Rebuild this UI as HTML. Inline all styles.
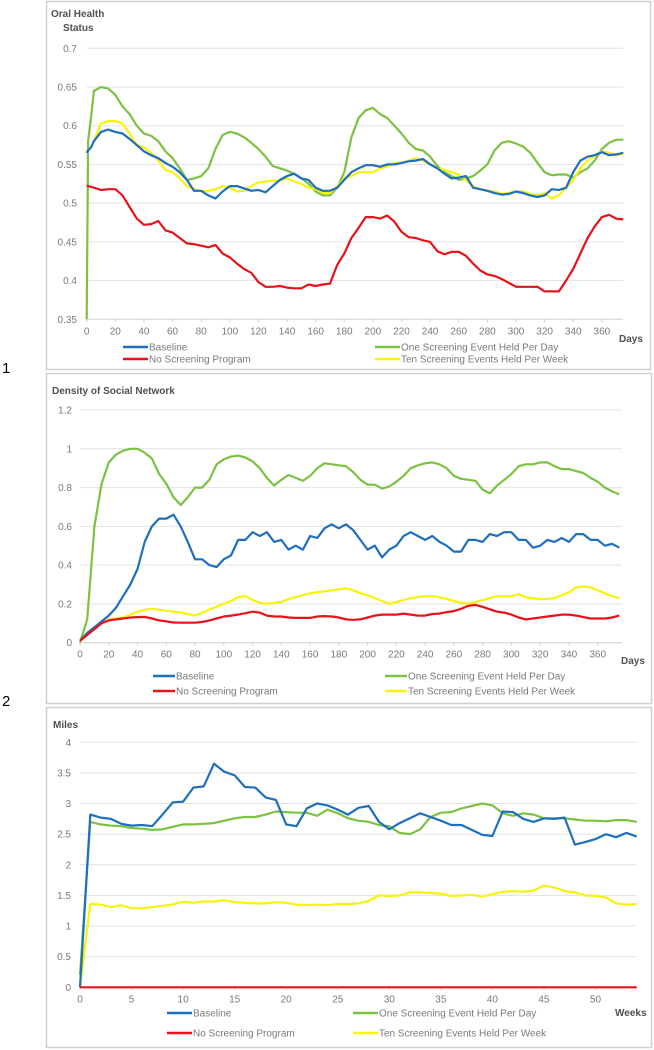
<!DOCTYPE html>
<html><head><meta charset="utf-8"><style>
html,body{margin:0;padding:0;background:#fff;}
svg{display:block;font-family:"Liberation Sans",sans-serif;}
</style></head><body>
<svg id="s" width="654" height="1050" xmlns="http://www.w3.org/2000/svg">
<text x="2" y="373" font-size="15" fill="#000">1</text>
<text x="2" y="706" font-size="15" fill="#000">2</text>
</svg>
<script>
// ---- Chart 1: Oral Health Status ----
const days1 = [0,1,3,5,10,15,20,25,30,35,40,45,50,55,60,65,70,75,80,85,90,95,100,105,110,115,120,125,130,135,140,145,150,155,160,165,170,175,180,185,190,195,200,205,210,215,220,225,230,235,240,245,250,255,260,265,270,275,280,285,290,295,300,305,310,315,320,325,330,335,340,345,350,355,360,365,370,375];
const ohBaseline = [0.565,0.568,0.572,0.58,0.592,0.595,0.592,0.59,0.583,0.575,0.567,0.562,0.558,0.552,0.547,0.54,0.53,0.516,0.516,0.51,0.506,0.515,0.522,0.522,0.519,0.516,0.517,0.514,0.522,0.53,0.535,0.538,0.532,0.53,0.52,0.516,0.516,0.52,0.53,0.54,0.545,0.549,0.549,0.547,0.55,0.55,0.552,0.554,0.555,0.557,0.55,0.545,0.538,0.532,0.533,0.535,0.52,0.518,0.516,0.513,0.511,0.512,0.515,0.513,0.51,0.508,0.51,0.518,0.517,0.52,0.54,0.555,0.56,0.562,0.566,0.562,0.563,0.565];
const ohNone = [0.523,0.522,0.521,0.52,0.517,0.518,0.518,0.51,0.495,0.48,0.472,0.473,0.477,0.465,0.462,0.455,0.448,0.447,0.445,0.443,0.446,0.435,0.43,0.422,0.415,0.41,0.398,0.392,0.392,0.393,0.391,0.39,0.39,0.395,0.393,0.395,0.396,0.42,0.435,0.455,0.468,0.482,0.482,0.48,0.484,0.476,0.463,0.456,0.455,0.452,0.45,0.438,0.434,0.437,0.437,0.432,0.422,0.413,0.408,0.406,0.402,0.397,0.392,0.392,0.392,0.392,0.386,0.386,0.386,0.4,0.415,0.435,0.455,0.47,0.482,0.485,0.48,0.479];
const ohDaily = [0.35,0.58,0.61,0.645,0.65,0.648,0.64,0.625,0.615,0.6,0.59,0.587,0.58,0.567,0.558,0.545,0.53,0.532,0.535,0.545,0.57,0.588,0.592,0.59,0.585,0.578,0.57,0.56,0.548,0.545,0.542,0.538,0.532,0.525,0.515,0.51,0.51,0.52,0.54,0.585,0.61,0.62,0.623,0.615,0.61,0.6,0.59,0.578,0.57,0.568,0.56,0.548,0.54,0.535,0.53,0.532,0.535,0.542,0.55,0.568,0.578,0.58,0.577,0.573,0.565,0.552,0.54,0.536,0.537,0.537,0.533,0.54,0.545,0.555,0.57,0.578,0.582,0.582];
const ohWeekly = [0.565,0.568,0.572,0.58,0.603,0.606,0.606,0.603,0.59,0.575,0.572,0.565,0.555,0.543,0.54,0.532,0.522,0.518,0.515,0.516,0.518,0.522,0.52,0.515,0.516,0.522,0.527,0.528,0.529,0.529,0.532,0.528,0.525,0.52,0.518,0.513,0.513,0.522,0.532,0.535,0.54,0.54,0.54,0.545,0.547,0.552,0.552,0.555,0.558,0.555,0.55,0.545,0.543,0.54,0.537,0.53,0.522,0.518,0.516,0.515,0.512,0.513,0.515,0.515,0.512,0.51,0.513,0.506,0.51,0.52,0.53,0.545,0.555,0.562,0.567,0.565,0.562,0.564];
const ohYTicks = ["0.35","0.4","0.45","0.5","0.55","0.6","0.65","0.7"];
const dayTicks = ["0","20","40","60","80","100","120","140","160","180","200","220","240","260","280","300","320","340","360"];

// ---- Chart 2: Density of Social Network ----
const days2 = [0,5,10,15,20,25,30,35,40,45,50,55,60,65,70,75,80,85,90,95,100,105,110,115,120,125,130,135,140,145,150,155,160,165,170,175,180,185,190,195,200,205,210,215,220,225,230,235,240,245,250,255,260,265,270,275,280,285,290,295,300,305,310,315,320,325,330,335,340,345,350,355,360,365,370,375];
const dnBaseline = [0.01,0.05,0.08,0.11,0.14,0.18,0.24,0.3,0.38,0.52,0.6,0.64,0.64,0.66,0.6,0.52,0.43,0.43,0.4,0.39,0.43,0.45,0.53,0.53,0.57,0.55,0.57,0.52,0.53,0.48,0.5,0.48,0.55,0.54,0.59,0.61,0.59,0.61,0.58,0.53,0.48,0.5,0.44,0.48,0.5,0.55,0.57,0.55,0.53,0.55,0.52,0.5,0.47,0.47,0.53,0.53,0.52,0.56,0.55,0.57,0.57,0.53,0.53,0.49,0.5,0.53,0.52,0.54,0.52,0.56,0.56,0.53,0.53,0.5,0.51,0.49];
const dnNone = [0.01,0.04,0.07,0.1,0.115,0.12,0.125,0.13,0.132,0.133,0.125,0.115,0.11,0.104,0.103,0.103,0.103,0.107,0.115,0.125,0.135,0.14,0.145,0.152,0.16,0.155,0.14,0.135,0.135,0.13,0.128,0.128,0.128,0.135,0.137,0.135,0.13,0.12,0.118,0.12,0.13,0.14,0.145,0.145,0.145,0.15,0.145,0.14,0.14,0.148,0.15,0.158,0.163,0.175,0.19,0.195,0.185,0.172,0.16,0.155,0.145,0.13,0.12,0.125,0.13,0.135,0.14,0.145,0.145,0.14,0.132,0.125,0.125,0.125,0.13,0.14];
const dnDaily = [0,0.12,0.6,0.82,0.93,0.97,0.99,1.0,1.0,0.98,0.95,0.87,0.82,0.75,0.71,0.75,0.8,0.8,0.84,0.92,0.945,0.96,0.965,0.955,0.935,0.9,0.85,0.81,0.84,0.865,0.85,0.835,0.86,0.9,0.925,0.92,0.915,0.91,0.88,0.84,0.815,0.815,0.795,0.805,0.83,0.86,0.9,0.915,0.925,0.93,0.92,0.9,0.86,0.845,0.84,0.835,0.79,0.77,0.81,0.84,0.87,0.91,0.92,0.92,0.93,0.93,0.91,0.895,0.895,0.885,0.875,0.85,0.83,0.8,0.78,0.765];
const dnWeekly = [0.01,0.04,0.07,0.1,0.12,0.125,0.13,0.145,0.16,0.17,0.175,0.17,0.165,0.16,0.155,0.148,0.14,0.155,0.17,0.185,0.2,0.215,0.235,0.24,0.22,0.205,0.2,0.205,0.21,0.225,0.235,0.245,0.255,0.26,0.265,0.27,0.275,0.28,0.27,0.255,0.245,0.23,0.215,0.2,0.21,0.22,0.23,0.235,0.24,0.24,0.235,0.225,0.215,0.205,0.2,0.21,0.22,0.23,0.24,0.24,0.24,0.25,0.235,0.23,0.225,0.225,0.23,0.245,0.26,0.285,0.29,0.285,0.27,0.255,0.24,0.23];
const dnYTicks = ["0","0.2","0.4","0.6","0.8","1","1.2"];

// ---- Chart 3: Miles ----
const weeks = [0,1,2,3,4,5,6,7,8,9,10,11,12,13,14,15,16,17,18,19,20,21,22,23,24,25,26,27,28,29,30,31,32,33,34,35,36,37,38,39,40,41,42,43,44,45,46,47,48,49,50,51,52,53,54];
const miBaseline = [0,2.82,2.77,2.75,2.67,2.64,2.65,2.63,2.82,3.02,3.03,3.26,3.28,3.65,3.52,3.46,3.27,3.26,3.1,3.06,2.66,2.63,2.92,3.0,2.97,2.9,2.82,2.93,2.96,2.7,2.58,2.68,2.76,2.84,2.78,2.72,2.65,2.65,2.57,2.49,2.47,2.87,2.86,2.75,2.7,2.76,2.75,2.77,2.33,2.37,2.42,2.5,2.45,2.52,2.46];
const miNone = [0,0,0,0,0,0,0,0,0,0,0,0,0,0,0,0,0,0,0,0,0,0,0,0,0,0,0,0,0,0,0,0,0,0,0,0,0,0,0,0,0,0,0,0,0,0,0,0,0,0,0,0,0,0,0];
const miDaily = [0.2,2.7,2.66,2.64,2.63,2.6,2.59,2.57,2.58,2.62,2.66,2.66,2.67,2.68,2.72,2.76,2.78,2.78,2.82,2.87,2.86,2.85,2.85,2.8,2.9,2.84,2.76,2.72,2.7,2.65,2.63,2.52,2.5,2.58,2.78,2.85,2.86,2.92,2.96,3.0,2.97,2.84,2.8,2.84,2.82,2.76,2.76,2.76,2.74,2.72,2.72,2.71,2.73,2.73,2.7];
const miWeekly = [0,1.36,1.35,1.31,1.34,1.29,1.29,1.31,1.33,1.35,1.4,1.38,1.4,1.4,1.42,1.39,1.38,1.37,1.37,1.39,1.38,1.35,1.34,1.35,1.34,1.36,1.36,1.37,1.41,1.5,1.49,1.5,1.55,1.55,1.54,1.53,1.49,1.5,1.51,1.48,1.52,1.56,1.57,1.56,1.58,1.66,1.63,1.57,1.55,1.5,1.49,1.47,1.37,1.35,1.36];
const miYTicks = ["0","0.5","1","1.5","2","2.5","3","3.5","4"];
const weekTicks = ["0","5","10","15","20","25","30","35","40","45","50"];

const NS="http://www.w3.org/2000/svg";
const svg=document.getElementById('s');
function mk(tag,attrs,parent){const e=document.createElementNS(NS,tag);for(const k in attrs)e.setAttribute(k,attrs[k]);(parent||svg).appendChild(e);return e;}
const COL={base:"#1f6fbf",none:"#e8121a",daily:"#7cc242",weekly:"#f7f30a"};

function chart(c){
  const g=mk('g',{});
  
  
  const fr=mk('rect',{x:c.box[0]+0.5,y:c.box[1]+0.5,width:c.box[2],height:c.box[3],fill:'#fff',stroke:'#d0d0d0','stroke-width':1.5},g);
  
  
  const X=v=>c.x0+(v-c.xmin)*c.xs;
  const Y=v=>c.y0-(v-c.ymin)/(c.ymax-c.ymin)*(c.y0-c.y1);
  c.yt.forEach(t=>{
    const v=parseFloat(t),y=Y(v);
    if(v!==c.ymin){const gl=mk('line',{x1:c.x0,x2:c.xend,y1:y,y2:y,stroke:'#e3e3e3','stroke-width':1},g);
      
      }
    const tx=mk('text',{x:c.ylx,y:y+3.5,'text-anchor':'end','font-size':10,fill:'#7a7a7a'},g);tx.textContent=t;
    
    
  });
  const ax=mk('line',{x1:c.x0,x2:c.xend,y1:c.y0,y2:c.y0,stroke:'#d0d0d0','stroke-width':1},g);
  
  
  c.xt.forEach(t=>{
    const x=X(parseFloat(t));
    mk('line',{x1:x,x2:x,y1:c.y0,y2:c.y0+3,stroke:'#d0d0d0'},g);
    const tx=mk('text',{x:x,y:c.y0+15,'text-anchor':'middle','font-size':10,fill:'#7a7a7a'},g);tx.textContent=t;
    
    
  });
  c.series.forEach(s=>{
    const d=s.v.map((v,i)=>(i?'L':'M')+X(c.xs_[i]).toFixed(1)+','+Y(v).toFixed(1)).join('');
    const p=mk('path',{d:d,fill:'none',stroke:COL[s.k],'stroke-width':2.2,'stroke-linejoin':'round'},g);
    
    
  });
  c.titles.forEach(t=>{
    const tx=mk('text',{x:t[0],y:t[1],'font-size':10,'font-weight':'bold',fill:'#505050'},g);tx.textContent=t[2];
    
    
  });
  const ut=mk('text',{x:c.unit[0],y:c.unit[1],'font-size':10,'font-weight':'bold',fill:'#505050'},g);ut.textContent=c.unit[2];
  
  
  const leg=[["base","Baseline",c.leg[0],c.leg[2]],["none","No Screening Program",c.leg[0],c.leg[3]],["daily","One Screening Event Held Per Day",c.leg[1],c.leg[2]],["weekly","Ten Screening Events Held Per Week",c.leg[1],c.leg[3]]];
  leg.forEach(l=>{
    const lg=mk('g',{},g);
    
    
    mk('line',{x1:l[2],x2:l[2]+c.leg[4],y1:l[3],y2:l[3],stroke:COL[l[0]],'stroke-width':2.5},lg);
    const tx=mk('text',{x:l[2]+c.leg[4]+1,y:l[3]+3.5,'font-size':10,fill:'#7a7a7a'},lg);tx.textContent=l[1];
  });
}

chart({name:'oral-health-chart',box:[46,1,604,368],x0:86.7,xmin:0,xs:1.431,xend:623,y0:319.3,y1:48.3,ymin:0.35,ymax:0.7,ylx:77,
  yt:ohYTicks,xt:dayTicks,xs_:days1,
  series:[{k:'daily',n:'series-one-event-per-day',v:ohDaily},{k:'weekly',n:'series-ten-events-per-week',v:ohWeekly},{k:'base',n:'series-baseline',v:ohBaseline},{k:'none',n:'series-no-screening',v:ohNone}],
  titles:[[51,17,'Oral Health'],[63,31,'Status']],unit:[619,342,'Days'],leg:[123,375,347,359,25]});

chart({name:'social-network-density-chart',box:[46,373,605,330],x0:80,xmin:0,xs:1.438,xend:622,y0:642.7,y1:410,ymin:0,ymax:1.2,ylx:72,
  yt:dnYTicks,xt:dayTicks,xs_:days2,
  series:[{k:'daily',n:'series-one-event-per-day',v:dnDaily},{k:'weekly',n:'series-ten-events-per-week',v:dnWeekly},{k:'base',n:'series-baseline',v:dnBaseline},{k:'none',n:'series-no-screening',v:dnNone}],
  titles:[[52,394,'Density of Social Network']],unit:[621,664,'Days'],leg:[153,385,676,691,22]});

chart({name:'miles-chart',box:[46,707,605,340],x0:80,xmin:0,xs:10.31,xend:637,y0:987.3,y1:742.3,ymin:0,ymax:4,ylx:71,
  yt:miYTicks,xt:weekTicks,xs_:weeks,
  series:[{k:'daily',n:'series-one-event-per-day',v:miDaily},{k:'weekly',n:'series-ten-events-per-week',v:miWeekly},{k:'base',n:'series-baseline',v:miBaseline},{k:'none',n:'series-no-screening',v:miNone}],
  titles:[[53,728,'Miles']],unit:[615,1016,'Weeks'],leg:[167,353,1013,1033,25]});
</script>
</body></html>
